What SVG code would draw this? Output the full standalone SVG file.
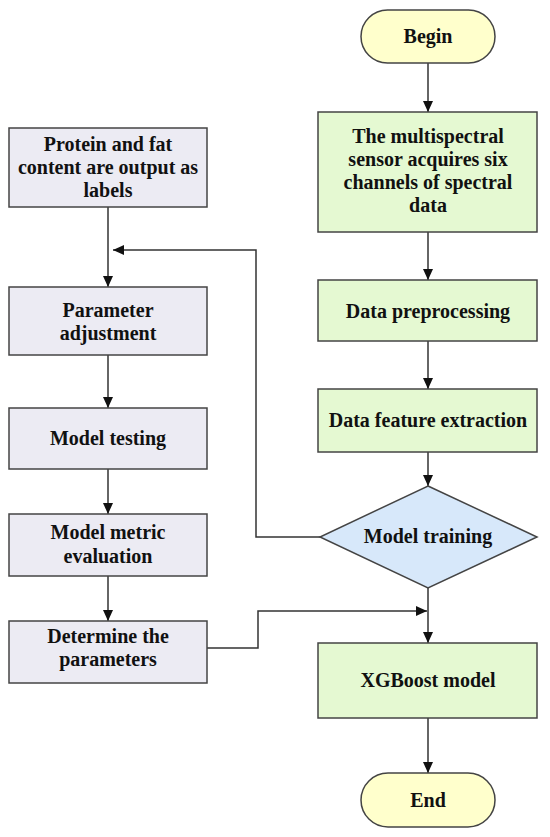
<svg xmlns="http://www.w3.org/2000/svg" width="550" height="837" viewBox="0 0 550 837">
<defs>
<marker id="ah" markerUnits="userSpaceOnUse" markerWidth="12" markerHeight="10" refX="11" refY="5" orient="auto">
<path d="M0,0 L11,5 L0,10 z" fill="#111"/>
</marker>
<style>
.g{fill:#e5f9d2;stroke:#444;stroke-width:1.5}
.p{fill:#ecebf3;stroke:#444;stroke-width:1.5}
.y{fill:#ffffcc;stroke:#444;stroke-width:1.5}
.d{fill:#d7e8fa;stroke:#444;stroke-width:1.5}
text{font-family:"Liberation Serif","Times New Roman",serif;font-weight:bold;font-size:20px;fill:#111;text-anchor:middle}
.c line,.c polyline{stroke:#333;stroke-width:1.5;fill:none;marker-end:url(#ah)}
</style>
</defs>
<rect width="550" height="837" fill="#fff"/>
<g class="c" id="connectors">
<line x1="428" y1="63" x2="428" y2="112"/>
<line x1="428" y1="232" x2="428" y2="280"/>
<line x1="428" y1="341" x2="428" y2="389"/>
<line x1="428" y1="452" x2="428" y2="486"/>
<line x1="428" y1="588" x2="428" y2="643"/>
<line x1="428" y1="718" x2="428" y2="773"/>
<line x1="108" y1="207" x2="108" y2="287"/>
<line x1="108" y1="355" x2="108" y2="408"/>
<line x1="108" y1="469" x2="108" y2="514"/>
<line x1="108" y1="576" x2="108" y2="621"/>
<polyline points="320,537 256,537 256,250 113,250"/>
<polyline points="207,648 258,648 258,611 427,611"/>
</g>
<g id="begin"><rect class="y" x="361" y="10" width="134" height="53" rx="26.5"/><text x="428" y="43">Begin</text></g>
<g id="acquire"><rect class="g" x="318" y="112" width="219" height="120"/>
<text x="428" y="143">The multispectral</text><text x="428" y="166">sensor acquires six</text><text x="428" y="189">channels of spectral</text><text x="428" y="212">data</text></g>
<g id="preprocess"><rect class="g" x="318" y="280" width="219" height="61"/><text x="428" y="318">Data preprocessing</text></g>
<g id="feature"><rect class="g" x="318" y="389" width="219" height="63"/><text x="428" y="427">Data feature extraction</text></g>
<g id="training"><polygon class="d" points="428,486 537,537 428,588 320,537"/><text x="428" y="543">Model training</text></g>
<g id="xgboost"><rect class="g" x="318" y="643" width="219" height="75"/><text x="428" y="687">XGBoost model</text></g>
<g id="end"><rect class="y" x="361" y="773" width="134" height="54" rx="27"/><text x="428" y="807">End</text></g>
<g id="labels"><rect class="p" x="9" y="128" width="198" height="79"/>
<text x="108" y="151">Protein and fat</text><text x="108" y="174">content are output as</text><text x="108" y="197">labels</text></g>
<g id="adjust"><rect class="p" x="9" y="287" width="198" height="68"/><text x="108" y="317">Parameter</text><text x="108" y="340">adjustment</text></g>
<g id="testing"><rect class="p" x="9" y="408" width="198" height="61"/><text x="108" y="445">Model testing</text></g>
<g id="metric"><rect class="p" x="9" y="514" width="198" height="62"/><text x="108" y="539">Model metric</text><text x="108" y="563">evaluation</text></g>
<g id="determine"><rect class="p" x="9" y="621" width="198" height="62"/><text x="108" y="643">Determine the</text><text x="108" y="666">parameters</text></g>
</svg>
